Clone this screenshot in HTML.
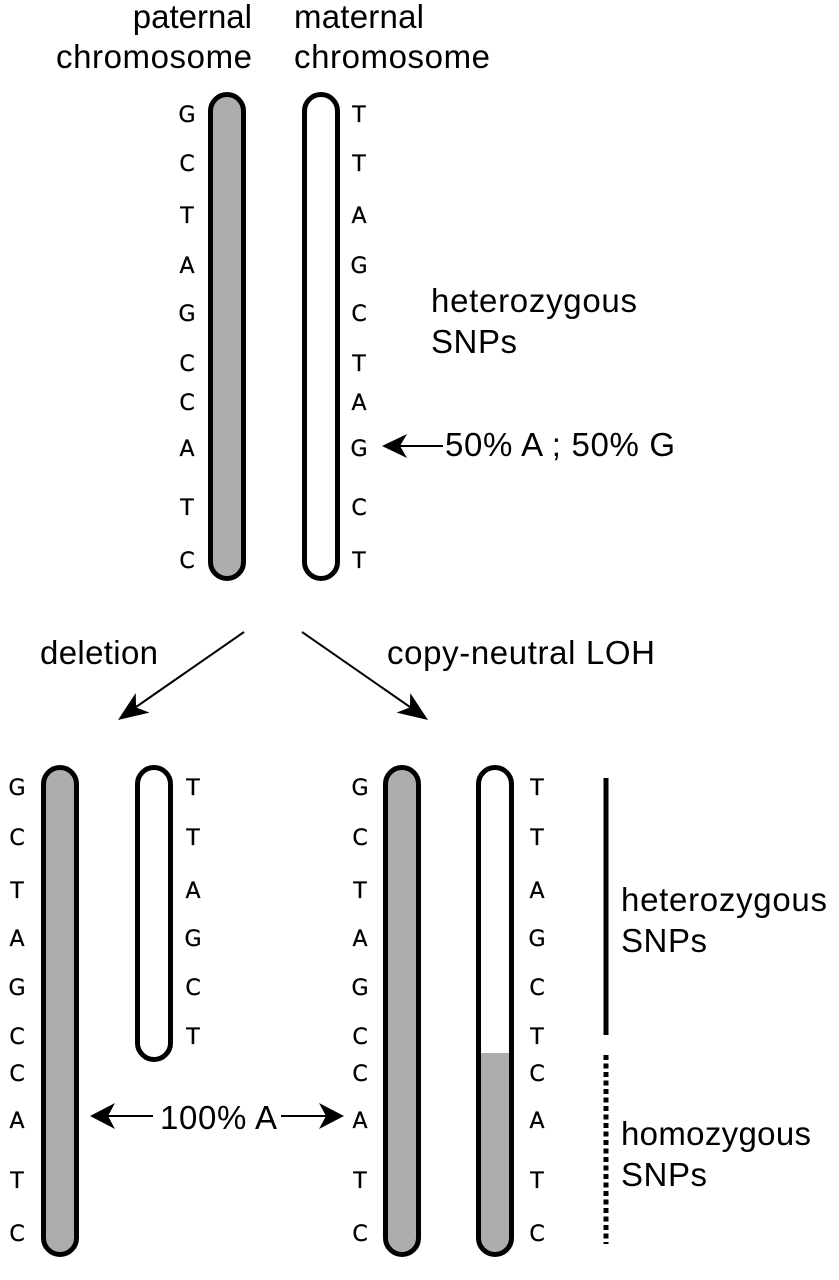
<!DOCTYPE html>
<html>
<head>
<meta charset="utf-8">
<style>
  html, body { margin: 0; padding: 0; background: #fff; }
  svg { display: block; }
  .big { font-family: "Liberation Sans", Arial, sans-serif; font-size: 33px; fill: #000; }
</style>
</head>
<body>
<svg width="839" height="1280" viewBox="0 0 839 1280" xmlns="http://www.w3.org/2000/svg">
  <rect width="839" height="1280" fill="#fff"/>
  <defs>
    <clipPath id="rodclip">
      <rect x="478.5" y="767.5" width="33" height="487" rx="16.5" ry="16.5"/>
    </clipPath>
  </defs>

  <!-- Header labels -->
  <text class="big" x="252" y="28" text-anchor="end">paternal</text>
  <text class="big" x="252" y="68" text-anchor="end" textLength="196">chromosome</text>
  <text class="big" x="294" y="28" textLength="130">maternal</text>
  <text class="big" x="294" y="68" textLength="196">chromosome</text>

  <!-- Top chromosomes -->
  <rect x="210.5" y="94.5" width="33" height="484" rx="16.5" ry="16.5" fill="#adadad" stroke="#000" stroke-width="5"/>
  <rect x="304.5" y="94.5" width="33" height="484" rx="16.5" ry="16.5" fill="#fff" stroke="#000" stroke-width="5"/>

  <g font-family="DejaVu Sans, Liberation Sans, sans-serif" font-size="22" text-anchor="middle" fill="#000" stroke="#000" stroke-width="0.3">
    <text x="187" y="122">G</text>
    <text x="187" y="171">C</text>
    <text x="187" y="223">T</text>
    <text x="187" y="273">A</text>
    <text x="187" y="321">G</text>
    <text x="187" y="371">C</text>
    <text x="187" y="410">C</text>
    <text x="187" y="456">A</text>
    <text x="187" y="515">T</text>
    <text x="187" y="568">C</text>

    <text x="359" y="122">T</text>
    <text x="359" y="171">T</text>
    <text x="359" y="223">A</text>
    <text x="359" y="273">G</text>
    <text x="359" y="321">C</text>
    <text x="359" y="371">T</text>
    <text x="359" y="410">A</text>
    <text x="359" y="456">G</text>
    <text x="359" y="515">C</text>
    <text x="359" y="568">T</text>

    <!-- bottom-left -->
    <text x="17" y="795">G</text>
    <text x="17" y="845">C</text>
    <text x="17" y="898">T</text>
    <text x="17" y="946">A</text>
    <text x="17" y="995">G</text>
    <text x="17" y="1044">C</text>
    <text x="17" y="1081">C</text>
    <text x="17" y="1128">A</text>
    <text x="17" y="1188">T</text>
    <text x="17" y="1241">C</text>

    <text x="193" y="795">T</text>
    <text x="193" y="845">T</text>
    <text x="193" y="898">A</text>
    <text x="193" y="946">G</text>
    <text x="193" y="995">C</text>
    <text x="193" y="1044">T</text>

    <!-- bottom-right -->
    <text x="360" y="795">G</text>
    <text x="360" y="845">C</text>
    <text x="360" y="898">T</text>
    <text x="360" y="946">A</text>
    <text x="360" y="995">G</text>
    <text x="360" y="1044">C</text>
    <text x="360" y="1081">C</text>
    <text x="360" y="1128">A</text>
    <text x="360" y="1188">T</text>
    <text x="360" y="1241">C</text>

    <text x="537" y="795">T</text>
    <text x="537" y="845">T</text>
    <text x="537" y="898">A</text>
    <text x="537" y="946">G</text>
    <text x="537" y="995">C</text>
    <text x="537" y="1044">T</text>
    <text x="537" y="1081">C</text>
    <text x="537" y="1128">A</text>
    <text x="537" y="1188">T</text>
    <text x="537" y="1241">C</text>
  </g>

  <!-- heterozygous SNPs (top) -->
  <text class="big" x="431" y="312" textLength="206">heterozygous</text>
  <text class="big" x="431" y="353" textLength="86">SNPs</text>

  <!-- 50% arrow -->
  <line x1="400" y1="446" x2="443" y2="446" stroke="#000" stroke-width="2"/>
  <polygon points="0,0 -25,-12 -18,0 -25,12" fill="#000" transform="translate(382,446) rotate(180)"/>
  <text class="big" x="445" y="456" textLength="230">50% A ; 50% G</text>

  <!-- Diagonal arrows -->
  <line x1="244" y1="632" x2="136" y2="707" stroke="#000" stroke-width="2"/>
  <polygon points="0,0 -30,-12 -22,0 -30,12" fill="#000" transform="translate(118,720) rotate(145.1)"/>
  <line x1="302" y1="632" x2="410" y2="707" stroke="#000" stroke-width="2"/>
  <polygon points="0,0 -30,-12 -22,0 -30,12" fill="#000" transform="translate(428,720) rotate(34.9)"/>

  <text class="big" x="40" y="664" textLength="118">deletion</text>
  <text class="big" x="387" y="664" textLength="268">copy-neutral LOH</text>

  <!-- Bottom-left chromosomes -->
  <rect x="43.5" y="767.5" width="33" height="487" rx="16.5" ry="16.5" fill="#adadad" stroke="#000" stroke-width="5"/>
  <rect x="137.5" y="767.5" width="33" height="292" rx="16.5" ry="16.5" fill="#fff" stroke="#000" stroke-width="5"/>

  <!-- 100% A arrows -->
  <line x1="107" y1="1116" x2="153" y2="1116" stroke="#000" stroke-width="2"/>
  <polygon points="0,0 -25,-13 -18,0 -25,13" fill="#000" transform="translate(90,1116) rotate(180)"/>
  <text class="big" x="160" y="1129" textLength="117">100% A</text>
  <line x1="281" y1="1116" x2="327" y2="1116" stroke="#000" stroke-width="2"/>
  <polygon points="0,0 -25,-13 -18,0 -25,13" fill="#000" transform="translate(344,1116)"/>

  <!-- Bottom-right chromosomes -->
  <rect x="385.5" y="767.5" width="33" height="487" rx="16.5" ry="16.5" fill="#adadad" stroke="#000" stroke-width="5"/>
  <rect x="478.5" y="767.5" width="33" height="487" rx="16.5" ry="16.5" fill="#fff"/>
  <rect x="470" y="1053" width="50" height="210" fill="#adadad" clip-path="url(#rodclip)"/>
  <rect x="478.5" y="767.5" width="33" height="487" rx="16.5" ry="16.5" fill="none" stroke="#000" stroke-width="5"/>

  <!-- Solid & dotted vertical lines -->
  <line x1="606" y1="778" x2="606" y2="1035" stroke="#000" stroke-width="5"/>
  <line x1="606" y1="1055" x2="606" y2="1244" stroke="#000" stroke-width="5" stroke-dasharray="5 3.5"/>

  <!-- Bottom labels -->
  <text class="big" x="621" y="911" textLength="206">heterozygous</text>
  <text class="big" x="621" y="952" textLength="86">SNPs</text>
  <text class="big" x="621" y="1145" textLength="190">homozygous</text>
  <text class="big" x="621" y="1186" textLength="86">SNPs</text>
</svg>
</body>
</html>
